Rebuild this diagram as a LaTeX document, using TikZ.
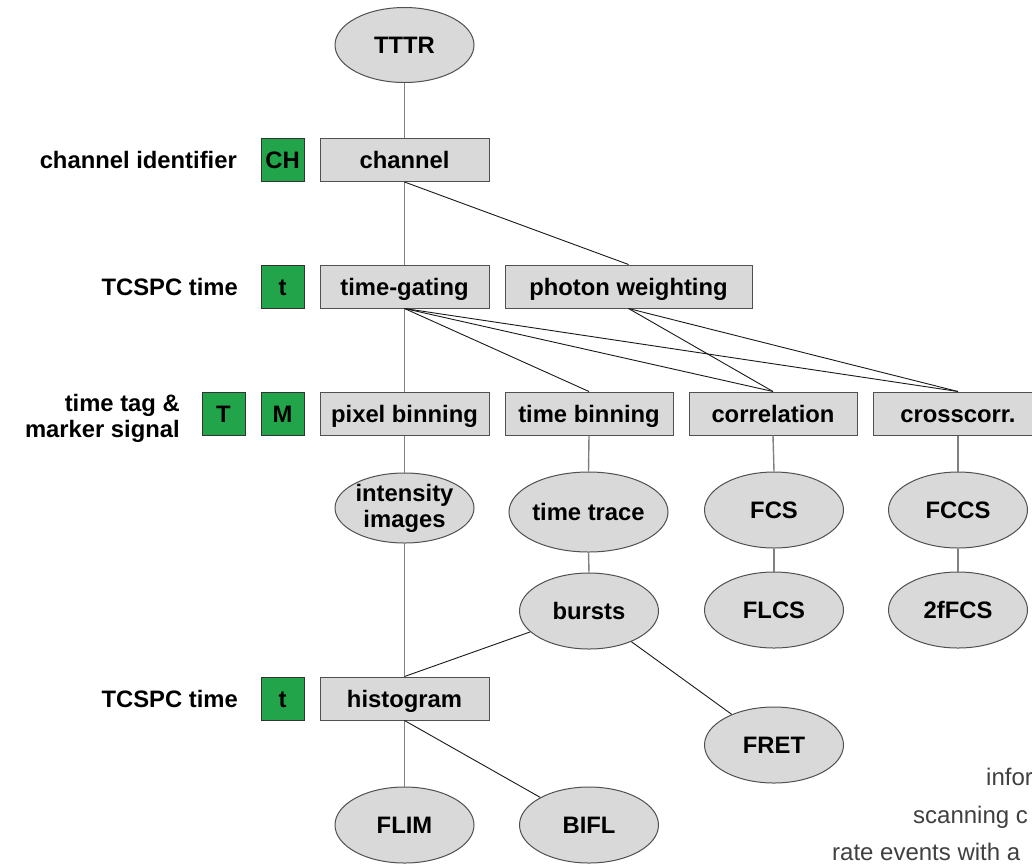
\documentclass[tikz,border=0pt]{standalone}
\usepackage{fontspec}
\setmainfont{Liberation Sans}
\usetikzlibrary{shapes.geometric}
\definecolor{boxfill}{RGB}{217,217,217}
\definecolor{boxline}{RGB}{80,80,80}
\definecolor{chgreen}{RGB}{34,165,74}
\definecolor{vline}{RGB}{128,128,128}
\definecolor{notegray}{RGB}{64,64,64}
\tikzset{
  every node/.style={font=\fontsize{23.8}{26}\selectfont\bfseries},
  oneline/.style={text height=17pt, text depth=0pt},
  procbox/.style={rectangle, draw=boxline, fill=boxfill, line width=1pt, minimum width=169pt, minimum height=43pt, inner sep=0pt, oneline},
  greenbox/.style={rectangle, draw=black!80, fill=chgreen, line width=1pt, minimum width=43pt, minimum height=43pt, inner sep=0pt, oneline},
  resell/.style={ellipse, draw=boxline, fill=boxfill, line width=1pt, minimum width=139pt, minimum height=76pt, inner sep=0pt, align=center},
  rowlabel/.style={anchor=east, align=right, inner sep=0pt},
  vconn/.style={draw=vline, line width=1.4pt},
  dconn/.style={draw=black!90, line width=0.9pt},
  notetext/.style={anchor=base west, inner sep=0pt, text=notegray, font=\fontsize{24}{28}\selectfont}
}
\begin{document}
\begin{tikzpicture}[x=1pt,y=-1pt]
\useasboundingbox (0,0) rectangle (1032,863);
\fill[white] (0,0) rectangle (1032,863);
\clip (0,0) rectangle (1032,863);

% nodes
\node[resell, oneline, minimum height=75pt] (tttr) at (404.5,45) {TTTR};
\node[procbox] (channel) at (404.5,160) {channel};
\node[greenbox] (ch) at (282.5,160) {CH};
\node[rowlabel, oneline] (lch) at (237,160) {channel identifier};

\node[procbox] (gating) at (404.5,286.5) {time-gating};
\node[procbox, minimum width=247pt] (weight) at (628.5,286.5) {photon weighting};
\node[greenbox] (t1) at (282.5,286.5) {t};
\node[rowlabel, oneline] (lt1) at (238,286.5) {TCSPC time};

\node[procbox] (pixel) at (404.5,413.5) {pixel binning};
\node[procbox, minimum width=168pt] (timebin) at (589,413.5) {time binning};
\node[procbox, minimum width=168pt] (corr) at (773,413.5) {correlation};
\node[procbox] (cross) at (958,413.5) {crosscorr.};
\node[greenbox] (mk) at (282.5,413.5) {M};
\node[greenbox] (tt) at (223.5,413.5) {T};
\node[rowlabel] (ltt) at (180,418) {time tag \&\\marker signal};

\node[resell, minimum height=70pt] (intens) at (404.5,508) {intensity\\images};
\node[resell, oneline, minimum width=159pt, minimum height=80pt] (trace) at (588.5,512) {time trace};
\node[resell, oneline] (fcs) at (774,510) {FCS};
\node[resell, oneline] (fccs) at (958,510) {FCCS};
\node[resell, oneline] (bursts) at (589,611) {bursts};
\node[resell, oneline] (flcs) at (774,610) {FLCS};
\node[resell, oneline] (twof) at (958,610) {2fFCS};

\node[procbox] (hist) at (404.5,698.5) {histogram};
\node[greenbox] (t2) at (282.5,698.5) {t};
\node[rowlabel, oneline] (lt2) at (238,698.5) {TCSPC time};

\node[resell, oneline] (fret) at (774,745) {FRET};
\node[resell, oneline] (flim) at (404.5,825) {FLIM};
\node[resell, oneline] (bifl) at (589,825) {BIFL};

% vertical connectors
\draw[vconn] (tttr.south) -- (channel.north);
\draw[vconn] (channel.south) -- (gating.north);
\draw[vconn] (gating.south) -- (pixel.north);
\draw[vconn] (pixel.south) -- (intens.north);
\draw[vconn] (intens.south) -- (hist.north);
\draw[vconn] (hist.south) -- (flim.north);
\draw[vconn] (timebin.south) -- (trace.north);
\draw[vconn] (trace.south) -- (bursts.north);
\draw[vconn] (corr.south) -- (fcs.north);
\draw[vconn] (fcs.south) -- (flcs.north);
\draw[vconn] (cross.south) -- (fccs.north);
\draw[vconn] (fccs.south) -- (twof.north);

% diagonal connectors
\draw[dconn] (channel.south) -- (weight.north);
\draw[dconn] (gating.south) -- (timebin.north);
\draw[dconn] (gating.south) -- (corr.north);
\draw[dconn] (gating.south) -- (cross.north);
\draw[dconn] (weight.south) -- (corr.north);
\draw[dconn] (weight.south) -- (cross.north);
\draw[dconn] (hist.north) -- (bursts);
\draw[dconn] (bursts) -- (fret);
\draw[dconn] (hist.south) -- (bifl);

% cut-off note text at bottom right
\node[notetext] (n1) at (986,785) {infor};
\node[notetext] (n2) at (913,823) {scanning c};
\node[notetext] (n3) at (832,860) {rate events with a};
\end{tikzpicture}
\end{document}
